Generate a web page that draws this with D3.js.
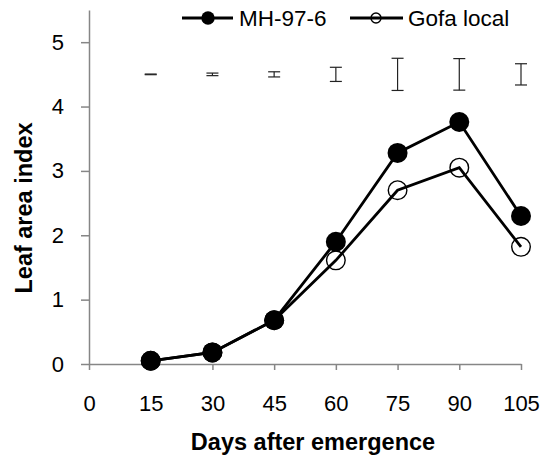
<!DOCTYPE html>
<html>
<head>
<meta charset="utf-8">
<script src="https://cdn.jsdelivr.net/npm/d3@7"></script>
<style>
  body { margin: 0; background: #fff; }
  svg text { font-family: Arial, "Liberation Sans", sans-serif; fill: #000; }
</style>
</head>
<body>
<svg width="543" height="456"></svg>
<script>
const days = [15, 30, 45, 60, 75, 90, 105];
const mh976 = [0.05, 0.18, 0.68, 1.9, 3.28, 3.76, 2.3];
const gofaLocal = [0.05, 0.18, 0.68, 1.61, 2.7, 3.05, 1.82];
// LSD-type bars drawn above the curves
const barCenter = [4.5, 4.5, 4.5, 4.5, 4.5, 4.5, 4.5];
const barHalf = [0.005, 0.02, 0.04, 0.11, 0.25, 0.245, 0.165];
const xTicks = [0, 15, 30, 45, 60, 75, 90, 105];
const yTicks = [0, 1, 2, 3, 4, 5];

const svg = d3.select("svg");
const axisColor = "#868686";

const x = d3.scaleLinear().domain([0, 105]).range([89, 521]);
const y = d3.scaleLinear().domain([0, 5.5]).range([364, 10]);

// axes
const xAxis = svg.append("g")
  .attr("transform", "translate(0,364)")
  .call(d3.axisBottom(x).tickValues(xTicks).tickSize(6).tickPadding(25).tickSizeOuter(0));
const yAxis = svg.append("g")
  .attr("transform", "translate(89,0)")
  .call(d3.axisLeft(y).tickValues(yTicks).tickFormat(d3.format("d"))
    .tickSize(8).tickPadding(17).tickSizeOuter(0));

[xAxis, yAxis].forEach(g => {
  g.select(".domain").attr("stroke", axisColor).attr("stroke-width", 1.5);
  g.selectAll(".tick line").attr("stroke", axisColor).attr("stroke-width", 1.5);
  g.selectAll(".tick text")
    .style("font-size", "22px")
    .style("font-family", "Arial, 'Liberation Sans', sans-serif")
    .attr("fill", "#000");
});

// axis titles
svg.append("text")
  .attr("x", 313)
  .attr("y", 450)
  .attr("text-anchor", "middle")
  .style("font-size", "23.5px")
  .style("font-weight", "bold")
  .text("Days after emergence");

svg.append("text")
  .attr("transform", "translate(32,208) rotate(-90)")
  .attr("text-anchor", "middle")
  .style("font-size", "23.5px")
  .style("font-weight", "bold")
  .text("Leaf area index");

// error bars
const bars = svg.append("g").attr("stroke", "#222").attr("stroke-width", 1.2);
days.forEach((d, i) => {
  const cx = x(d);
  const top = y(barCenter[i] + barHalf[i]);
  const bot = y(barCenter[i] - barHalf[i]);
  bars.append("line").attr("x1", cx).attr("x2", cx).attr("y1", top).attr("y2", bot);
  bars.append("line").attr("x1", cx - 6).attr("x2", cx + 6).attr("y1", top).attr("y2", top);
  bars.append("line").attr("x1", cx - 6).attr("x2", cx + 6).attr("y1", bot).attr("y2", bot);
});

const line = d3.line().x(d => x(d[0])).y(d => y(d[1]));

// Gofa local (open circles)
const gofaPts = days.map((d, i) => [d, gofaLocal[i]]);
svg.append("path")
  .datum(gofaPts)
  .attr("d", line)
  .attr("fill", "none")
  .attr("stroke", "#000")
  .attr("stroke-width", 2.8);
svg.selectAll(".gofa")
  .data(gofaPts)
  .enter()
  .append("circle")
  .attr("class", "gofa")
  .attr("cx", d => x(d[0]))
  .attr("cy", d => y(d[1]))
  .attr("r", 9.3)
  .attr("fill", "none")
  .attr("stroke", "#000")
  .attr("stroke-width", 1.4);

// MH-97-6 (filled circles)
const mhPts = days.map((d, i) => [d, mh976[i]]);
svg.append("path")
  .datum(mhPts)
  .attr("d", line)
  .attr("fill", "none")
  .attr("stroke", "#000")
  .attr("stroke-width", 2.8);
svg.selectAll(".mh")
  .data(mhPts)
  .enter()
  .append("circle")
  .attr("class", "mh")
  .attr("cx", d => x(d[0]))
  .attr("cy", d => y(d[1]))
  .attr("r", 10)
  .attr("fill", "#000");

// legend
const legend = svg.append("g");
legend.append("line").attr("x1", 182).attr("x2", 233).attr("y1", 18).attr("y2", 18)
  .attr("stroke", "#000").attr("stroke-width", 2.8);
legend.append("circle").attr("cx", 208).attr("cy", 18).attr("r", 6.7).attr("fill", "#000");
legend.append("text").attr("x", 239).attr("y", 26).style("font-size", "22.5px").text("MH-97-6");

legend.append("line").attr("x1", 350).attr("x2", 403).attr("y1", 18).attr("y2", 18)
  .attr("stroke", "#000").attr("stroke-width", 2.8);
legend.append("circle").attr("cx", 376).attr("cy", 18).attr("r", 5)
  .attr("fill", "none").attr("stroke", "#000").attr("stroke-width", 1.4);
legend.append("text").attr("x", 408).attr("y", 26).style("font-size", "22.5px").text("Gofa local");
</script>
</body>
</html>
